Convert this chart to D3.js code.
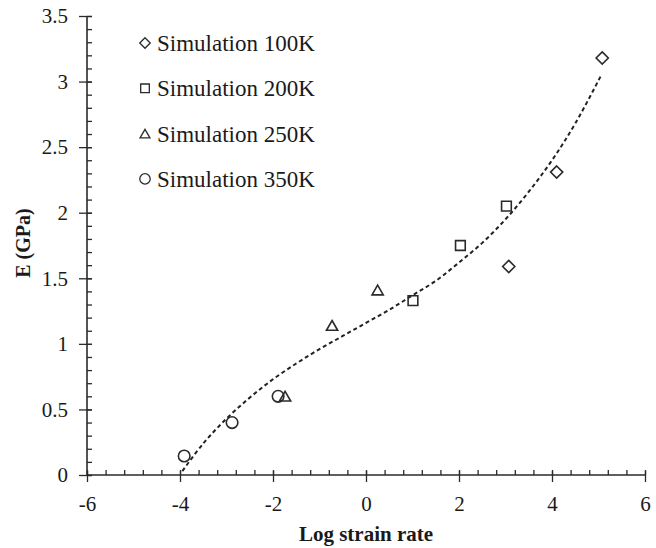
<!DOCTYPE html>
<html>
<head>
<meta charset="utf-8">
<script src="https://cdn.jsdelivr.net/npm/d3@7"></script>
<style>
  html, body { margin: 0; padding: 0; background: #ffffff; }
  svg { display: block; }
</style>
</head>
<body>
<svg id="chart" width="656" height="548"></svg>
<script>
// Young's modulus vs. log strain rate, four simulation temperatures
const sim100X = [5.08, 4.10, 3.07];
const sim100Y = [3.18, 2.31, 1.59];
const sim200X = [3.02, 2.03, 1.01];
const sim200Y = [2.05, 1.75, 1.33];
const sim250X = [0.25, -0.73, -1.74];
const sim250Y = [1.41, 1.14, 0.60];
const sim350X = [-1.89, -2.88, -3.91];
const sim350Y = [0.60, 0.40, 0.145];

// Fitted trend (dashed curve), sampled along its length
const fitX = [-3.95, -3.5, -3.0, -2.5, -2.0, -1.5, -1.0, -0.5, 0, 0.5, 1.0, 1.5, 2.0, 2.5, 3.0, 3.5, 4.0, 4.5, 5.06];
const fitY = [0.03, 0.24, 0.43, 0.59, 0.73, 0.85, 0.96, 1.06, 1.16, 1.26, 1.37, 1.48, 1.62, 1.77, 1.95, 2.16, 2.40, 2.68, 3.05];

const seriesNames = ["Simulation 100K", "Simulation 200K", "Simulation 250K", "Simulation 350K"];
const xTicks = [-6, -4, -2, 0, 2, 4, 6];
const yTicks = [0, 0.5, 1, 1.5, 2, 2.5, 3, 3.5];
const xLabel = "Log strain rate";
const yLabel = "E (GPa)";

const serif = "'Liberation Serif', 'Times New Roman', Times, serif";
const ink = "#2a2a2a";
const svg = d3.select("#chart").attr("font-family", serif);

const x = d3.scaleLinear().domain([-6, 6]).range([87, 645]);
const y = d3.scaleLinear().domain([0, 3.5]).range([475, 16]);

const xMinor = d3.range(-6, 6.001, 0.4).map(v => +v.toFixed(2));
const yMinor = d3.range(0, 3.501, 0.1).map(v => +v.toFixed(2));

function styleTicks(g) {
  g.attr("font-family", serif).attr("font-size", 21);
  g.selectAll(".tick text").attr("fill", "#1a1a1a").attr("font-family", serif);
}

// ---- X axis ----
const gx = svg.append("g").attr("transform", `translate(0,${y(0)})`);
gx.append("g")
  .call(d3.axisTop(x).tickValues(xMinor).tickSize(5).tickFormat(""))
  .call(g => g.select(".domain").remove())
  .call(g => g.selectAll("line").attr("stroke", ink).attr("stroke-width", 1.3));
gx.append("g")
  .call(d3.axisBottom(x).tickValues(xTicks).tickSize(7).tickPadding(14).tickFormat(d => String(d)))
  .call(g => g.select(".domain").attr("stroke", ink).attr("stroke-width", 1.6).attr("d", `M${x(-6)},0H${x(6)}`))
  .call(g => g.selectAll(".tick line").attr("stroke", ink).attr("stroke-width", 1.3).attr("y1", -4))
  .call(styleTicks);

// ---- Y axis ----
const gy = svg.append("g").attr("transform", `translate(${x(-6)},0)`);
gy.append("g")
  .call(d3.axisRight(y).tickValues(yMinor).tickSize(5).tickFormat(""))
  .call(g => g.select(".domain").remove())
  .call(g => g.selectAll("line").attr("stroke", ink).attr("stroke-width", 1.3));
gy.append("g")
  .call(d3.axisLeft(y).tickValues(yTicks).tickSize(8).tickPadding(11).tickFormat(d => String(d)))
  .call(g => g.select(".domain").attr("stroke", ink).attr("stroke-width", 1.6).attr("d", `M0,${y(0)}V${y(3.5)}`))
  .call(g => g.selectAll(".tick line").attr("stroke", ink).attr("stroke-width", 1.3).attr("x1", 5))
  .call(styleTicks);

// ---- Axis titles ----
svg.append("text")
  .attr("x", (x(-6) + x(6)) / 2).attr("y", 541)
  .attr("text-anchor", "middle")
  .attr("font-family", serif)
  .attr("font-size", 21).attr("font-weight", "bold").attr("fill", "#1a1a1a")
  .text(xLabel);
svg.append("text")
  .attr("transform", `translate(30,${243}) rotate(-90)`)
  .attr("text-anchor", "middle")
  .attr("font-family", serif)
  .attr("font-size", 20).attr("font-weight", "bold").attr("fill", "#1a1a1a")
  .text(yLabel);

// ---- Trend curve ----
const fit = fitX.map((v, i) => [v, fitY[i]]);
svg.append("path")
  .datum(fit)
  .attr("fill", "none")
  .attr("stroke", "#222")
  .attr("stroke-width", 2)
  .attr("stroke-dasharray", "4,3")
  .attr("d", d3.line().x(d => x(d[0])).y(d => y(d[1])).curve(d3.curveCatmullRom));

// ---- Markers ----
const symbolTypes = [d3.symbolDiamond2, d3.symbolSquare2, d3.symbolTriangle2, d3.symbolCircle];
const symbolSizes = [95, 120, 90, 105];
const series = [
  { xs: sim100X, ys: sim100Y },
  { xs: sim200X, ys: sim200Y },
  { xs: sim250X, ys: sim250Y },
  { xs: sim350X, ys: sim350Y }
];
const markerOffset = [0, 0, 1.5, 0];

series.forEach((s, k) => {
  const pts = s.xs.map((v, i) => [v, s.ys[i]]);
  svg.append("g").selectAll("path")
    .data(pts)
    .join("path")
    .attr("transform", d => `translate(${x(d[0])},${y(d[1]) + markerOffset[k]})`)
    .attr("d", d3.symbol().type(symbolTypes[k]).size(symbolSizes[k]))
    .attr("fill", "none")
    .attr("stroke", ink)
    .attr("stroke-width", 1.6);
});

// ---- Legend ----
const legend = svg.append("g");
const legendSizes = [70, 95, 70, 85];
seriesNames.forEach((name, k) => {
  const ry = 43 + k * 45.3;
  legend.append("path")
    .attr("transform", `translate(145,${ry + markerOffset[k]})`)
    .attr("d", d3.symbol().type(symbolTypes[k]).size(legendSizes[k]))
    .attr("fill", "none")
    .attr("stroke", ink)
    .attr("stroke-width", 1.3);
  legend.append("text")
    .attr("x", 157).attr("y", ry + 8)
    .attr("font-family", serif)
    .attr("font-size", 23).attr("fill", "#1a1a1a")
    .text(name);
});
</script>
</body>
</html>
